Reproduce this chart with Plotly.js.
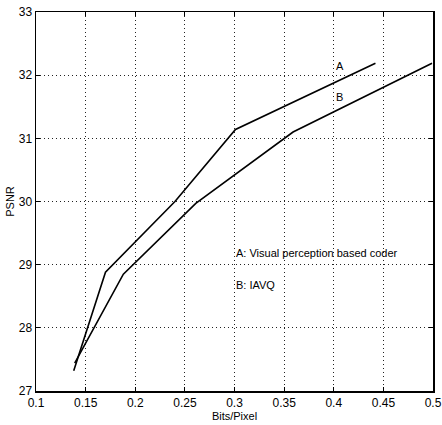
<!DOCTYPE html>
<html>
<head>
<script src="https://cdn.plot.ly/plotly-3.0.1.min.js"></script>
<style>html,body{margin:0;padding:0;background:#fff;}</style>
</head>
<body>
<div id="chart" style="width:442px;height:425px;"></div>
<script>
const xA = [0.138, 0.170, 0.240, 0.301, 0.442];
const yA = [27.32, 28.88, 30.00, 31.14, 32.19];
const xB = [0.139, 0.188, 0.261, 0.359, 0.499];
const yB = [27.44, 28.85, 29.97, 31.10, 32.19];
const xTicks = [0.1, 0.15, 0.2, 0.25, 0.3, 0.35, 0.4, 0.45, 0.5];
const xTickText = ['0.1', '0.15', '0.2', '0.25', '0.3', '0.35', '0.4', '0.45', '0.5'];
const yTicks = [27, 28, 29, 30, 31, 32, 33];
const labels = ['A', 'B'];
const labelX = [0.406, 0.406];
const labelY = [32.14, 31.65];
const notes = ['A: Visual perception based coder', 'B: IAVQ'];
const noteX = [0.299, 0.299];
const noteY = [29.18, 28.68];

const font = {family: 'Liberation Sans, Arial, sans-serif', size: 11, color: '#000'};
const tickFont = {family: 'Liberation Sans, Arial, sans-serif', size: 12, color: '#000'};
const axisCommon = {
  showline: true, linecolor: '#000', linewidth: 1.5, mirror: 'ticks',
  ticks: 'inside', ticklen: 4, tickcolor: '#000', tickwidth: 1,
  showgrid: true, gridcolor: '#222', griddash: '1px,3px', gridwidth: 1,
  zeroline: false, tickfont: tickFont
};
const traces = [
  {x: xA, y: yA, mode: 'lines', line: {color: '#000', width: 1.6}, name: 'A'},
  {x: xB, y: yB, mode: 'lines', line: {color: '#000', width: 1.6}, name: 'B'}
];
const annotations = [];
labels.forEach((t, i) => annotations.push({x: labelX[i], y: labelY[i], text: t, showarrow: false, font: font, xanchor: 'center', yanchor: 'middle'}));
notes.forEach((t, i) => annotations.push({x: noteX[i], y: noteY[i], text: t, showarrow: false, font: font, xanchor: 'left', yanchor: 'middle'}));
const layout = {
  width: 442, height: 425,
  margin: {l: 36, r: 9, t: 12, b: 34},
  paper_bgcolor: '#fff', plot_bgcolor: '#fff',
  showlegend: false,
  font: font,
  xaxis: Object.assign({}, axisCommon, {range: [0.1, 0.5], tickvals: xTicks, ticktext: xTickText,
    title: {text: 'Bits/Pixel', font: font, standoff: 2}}),
  yaxis: Object.assign({}, axisCommon, {range: [27, 33], tickvals: yTicks,
    title: {text: 'PSNR', font: font, standoff: 2}}),
  annotations: annotations
};
Plotly.newPlot('chart', traces, layout, {staticPlot: true, displayModeBar: false});
</script>
</body>
</html>
